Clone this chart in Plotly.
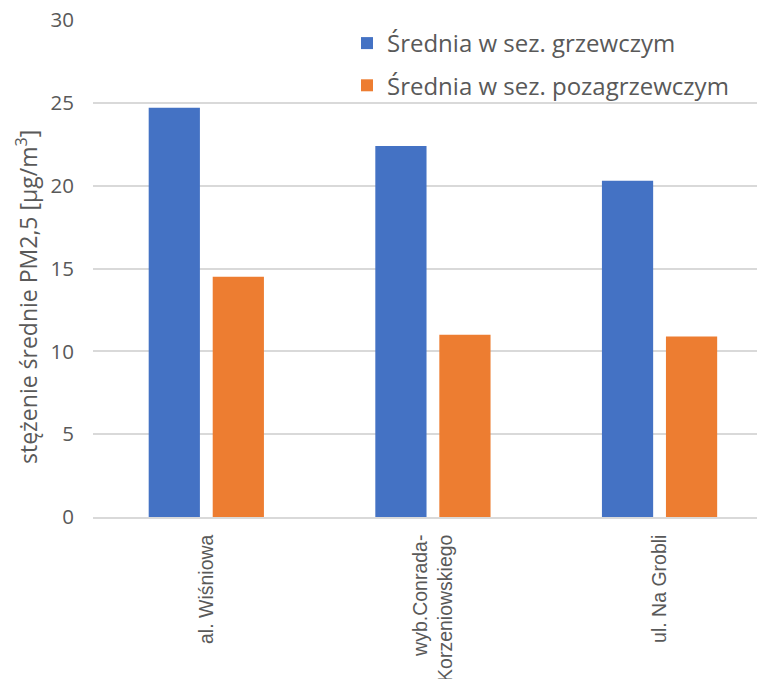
import plotly.graph_objects as go

# Measurement sites and seasonal PM2.5 averages
sites = ["al. Wiśniowa", "wyb.Conrada-<br>Korzeniowskiego", "ul. Na Grobli"]
heating_season = [24.7, 22.4, 20.3]
non_heating_season = [14.5, 11.0, 10.9]

series_names = ["Średnia w sez. grzewczym", "Średnia w sez. pozagrzewczym"]
y_ticks = [0, 5, 10, 15, 20, 25, 30]

W, H = 757, 679
ML, MR, MT, MB = 93, 0, 20, 162
grey = "#595959"
font_main = "Open Sans"

fig = go.Figure()
fig.add_trace(go.Bar(x=sites, y=heating_season, name=series_names[0],
                     legendgroup="a",
                     marker=dict(color="#4472C4", line=dict(width=0))))
fig.add_trace(go.Bar(x=sites, y=non_heating_season, name=series_names[1],
                     legendgroup="b",
                     marker=dict(color="#ED7D31", line=dict(width=0))))

fig.update_layout(
    width=W, height=H,
    margin=dict(l=ML, r=MR, t=MT, b=MB, autoexpand=False),
    paper_bgcolor="white", plot_bgcolor="white",
    barmode="group", bargap=0.435, bargroupgap=0.2,
    font=dict(family=font_main, color=grey, size=20),
    legend=dict(x=0.3825, y=0.998, xanchor="left", yanchor="top",
                font=dict(size=24, color=grey, family=font_main),
                bgcolor="rgba(255,255,255,0)", tracegroupgap=8,
                itemwidth=30),
    showlegend=True,
)

fig.update_xaxes(
    range=[-0.5, 2.43],
    tickangle=-90,
    tickfont=dict(family="Liberation Sans", size=19.5, color=grey),
    showline=True, linecolor="#d9d9d9", linewidth=1.5,
    showgrid=False, ticks="", ticklabelstandoff=8,
)
fig.update_yaxes(
    range=[0, 30], tickvals=y_ticks,
    showgrid=True, gridcolor="#d9d9d9", gridwidth=1.5,
    zeroline=False, showline=False,
    tickfont=dict(size=20.5, color=grey, family=font_main),
    ticklabelstandoff=18,
)

fig.add_annotation(
    text="stężenie średnie PM2,5 [μg/m<sup>3</sup>]",
    xref="paper", yref="paper",
    x=(27 - ML) / (W - ML - MR), y=(H - MB - 297) / (H - MT - MB),
    xanchor="center", yanchor="middle", textangle=-90, showarrow=False,
    font=dict(size=23, color=grey, family=font_main),
)

fig.write_html("out.html")
